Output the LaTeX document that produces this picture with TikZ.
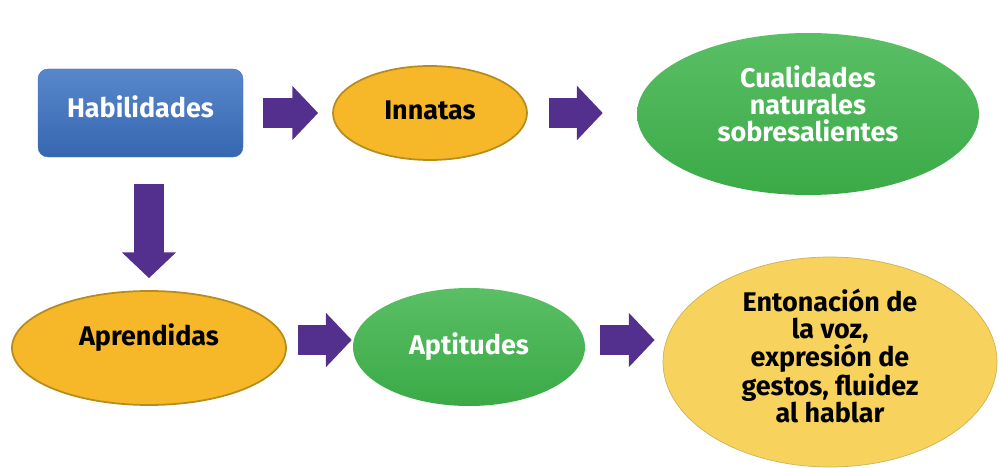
\documentclass[tikz,border=0pt]{standalone}
\usepackage{fontspec}
\setmainfont{Fira Sans}
\usetikzlibrary{arrows.meta}
\usetikzlibrary{shapes.geometric}
\newcommand\pu{0.3mm}
\definecolor{habblue}{HTML}{3B72C3}
\definecolor{innorange}{HTML}{F6B828}
\definecolor{innedge}{HTML}{B68C1F}
\definecolor{natgreen}{HTML}{3DB34A}
\definecolor{vozyellow}{HTML}{F7D35E}
\definecolor{vozedge}{HTML}{CDB355}
\definecolor{flowpurple}{HTML}{54308E}
\tikzset{
  txt/.style={font=\bfseries\fontsize{23}{23}\selectfont,align=center},
  oval/.style={ellipse,inner sep=0pt},
  flow/.style={draw=flowpurple,line width=24.8pt,-{Triangle[width=45pt,length=22pt]}}
}
\begin{document}
\begin{tikzpicture}[x=\pu,y=-\pu]
\useasboundingbox (0,0) rectangle (999,468);
% top row
\node[rectangle,rounded corners=3mm,top color=habblue!85!white,bottom color=habblue!90!black,draw=habblue,minimum width=205*\pu,minimum height=88*\pu,
  label={[txt,white,yshift=6*\pu]center:Habilidades}] (hab) at (140.5,113) {};
\node[oval,fill=innorange,draw=innedge,line width=1.5pt,minimum width=194*\pu,minimum height=94*\pu,
  label={[txt,black,yshift=3*\pu]center:Innatas}] (inn) at (430,113) {};
\node[oval,top color=natgreen!85!white,bottom color=natgreen!95!black,minimum width=342*\pu,minimum height=162*\pu,
  label={[txt,white,yshift=10*\pu]center:Cualidades\\naturales\\sobresalientes}] (cual) at (808,114) {};
% bottom row
\node[oval,fill=innorange,draw=innedge,line width=1.5pt,minimum width=274*\pu,minimum height=114*\pu,
  label={[txt,black,yshift=10*\pu]center:Aprendidas}] (apr) at (149,348) {};
\node[oval,top color=natgreen!85!white,bottom color=natgreen!95!black,minimum width=232*\pu,minimum height=118*\pu,
  label={[txt,white]center:Aptitudes}] (apt) at (469,347) {};
\node[oval,fill=vozyellow,draw=vozedge,line width=0.6pt,minimum width=334*\pu,minimum height=210*\pu,
  label={[txt,black,yshift=6*\pu]center:Entonación de\\la voz,\\expresión de\\gestos, fluidez\\al hablar}] (voz) at (830,362) {};
% arrows
\draw[flow,shorten <=20*\pu,shorten >=14*\pu] (hab.east |- 0,113) -- (inn.west |- 0,113);
\draw[flow,shorten <=21*\pu,shorten >=34*\pu] (inn.east |- 0,113) -- (cual.west |- 0,113);
\draw[flow,shorten <=27*\pu,shorten >=12*\pu] (hab.south -| apr.north) -- (apr.north);
\draw[flow,shorten <=11*\pu,shorten >=1*\pu] (apr.east |- 0,340) -- (apt.west |- 0,340);
\draw[flow,shorten <=15*\pu,shorten >=8*\pu] (apt.east |- 0,340) -- (voz.west |- 0,340);
\end{tikzpicture}
\end{document}
